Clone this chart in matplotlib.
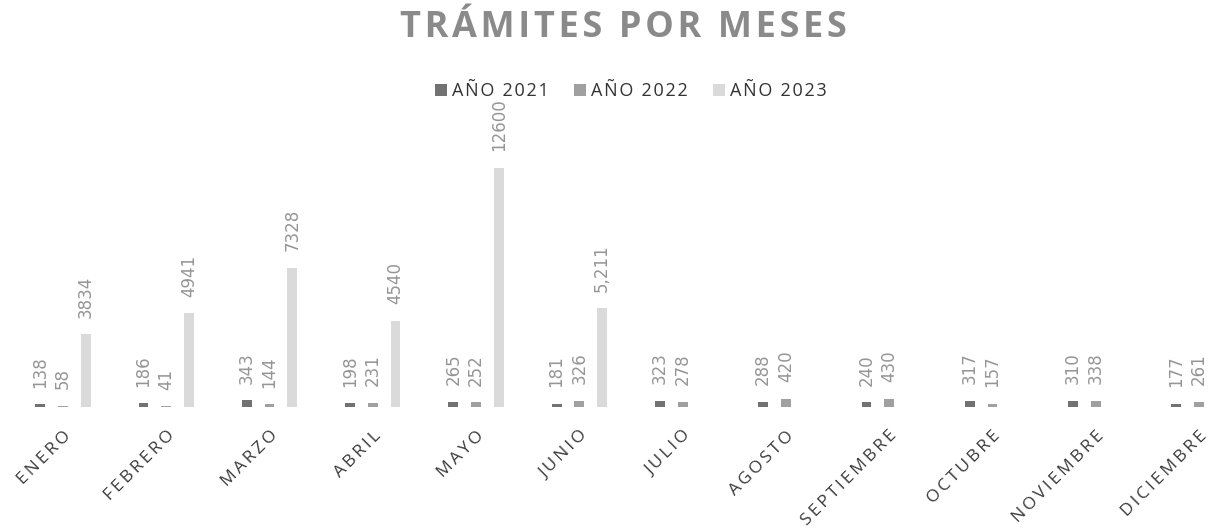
import numpy as np
import matplotlib.pyplot as plt

meses = ['ENERO', 'FEBRERO', 'MARZO', 'ABRIL', 'MAYO', 'JUNIO', 'JULIO',
         'AGOSTO', 'SEPTIEMBRE', 'OCTUBRE', 'NOVIEMBRE', 'DICIEMBRE']
anio_2021 = [138, 186, 343, 198, 265, 181, 323, 288, 240, 317, 310, 177]
anio_2022 = [58, 41, 144, 231, 252, 326, 278, 420, 430, 157, 338, 261]
anio_2023 = [3834, 4941, 7328, 4540, 12600, 5211, None, None, None, None, None, None]
etiquetas_2023 = ['3834', '4941', '7328', '4540', '12600', '5,211']

series = [('AÑO 2021', anio_2021, '#727272'),
          ('AÑO 2022', anio_2022, '#a0a0a0'),
          ('AÑO 2023', anio_2023, '#dadada')]

FUENTE = ['Open Sans', 'DejaVu Sans']


def espaciar(s, sep='\u200a'):
    # the scan has wide letter spacing, fake it with hair spaces
    return sep.join(s)


fig = plt.figure(figsize=(12.16, 5.32), dpi=100)
ax = fig.add_axes([0, 0.235, 1, 0.499])

x = np.arange(len(meses))
ancho = 0.095
paso = 0.22
for i, (nombre, vals, color) in enumerate(series):
    pos = x + (i - 1) * paso
    alturas = [v if v is not None else 0 for v in vals]
    ax.bar(pos, alturas, width=ancho, color=color, label=espaciar(nombre))
    for j, v in enumerate(vals):
        if v is None:
            continue
        txt = etiquetas_2023[j] if i == 2 else str(v)
        ax.annotate(txt, (pos[j], v), xytext=(0, 12), textcoords='offset points',
                    rotation=90, ha='center', va='bottom', fontsize=12,
                    color='#959595', family='DejaVu Sans')

ax.set_xlim(-0.61, 11.165)
ax.set_ylim(0, 14000)
ax.set_yticks([])
ax.set_xticks(x)
ax.set_xticklabels([espaciar(m, '\u2009') for m in meses], rotation=45, ha='right',
                   rotation_mode='anchor', fontsize=12.5, color='#3a3a3a', family=FUENTE)
ax.tick_params(axis='x', length=0, pad=15)
for s in ax.spines.values():
    s.set_visible(False)

fig.text(0.513, 0.947, espaciar('TRÁMITES POR MESES'), ha='center', va='center',
         fontsize=26, fontweight='bold', color='#8a8a8a', family=FUENTE)
fig.legend(loc='center', bbox_to_anchor=(0.519, 0.829), ncol=3, frameon=False,
           handlelength=0.65, handleheight=0.65, handletextpad=0.3,
           columnspacing=1.4, prop={'family': FUENTE, 'size': 13},
           labelcolor='#333333')

fig.savefig('out.png', dpi=100)
